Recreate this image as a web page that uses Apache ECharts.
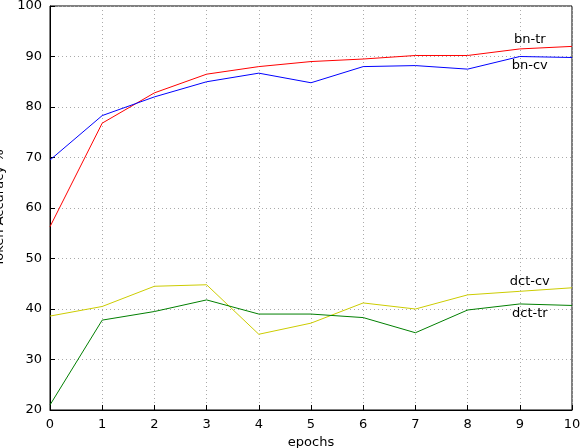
<!DOCTYPE html>
<html lang="en">
  <head>
    <meta charset="UTF-8" />
    <script src="https://cdn.jsdelivr.net/npm/echarts@6/dist/echarts.min.js"></script>
    <style>
      body { margin: 0; background: #fff; }
      .echarts { width: 580px; height: 448px; }
    </style>
  </head>
  <body>
    <div class="echarts"></div>
    <script>
      const epochs = [0, 1, 2, 3, 4, 5, 6, 7, 8, 9, 10]
      const bnTr = [56.3, 76.8, 82.8, 86.5, 88, 89, 89.5, 90.2, 90.2, 91.5, 92]
      const bnCv = [69.5, 78.3, 82, 85, 86.7, 84.8, 88, 88.2, 87.5, 90, 89.8]
      const dctCv = [38.6, 40.5, 44.5, 44.8, 35, 37.2, 41.2, 40, 42.8, 43.5, 44.2]
      const dctTr = [21, 37.8, 39.5, 41.8, 39, 39, 38.3, 35.3, 39.8, 41, 40.7]

      const myCharts = echarts.init(document.querySelector('.echarts'))
      const txt = { fontFamily: 'DejaVu Sans', fontSize: 13, color: '#000' }

      // label sits on the 9th point, above or below the line
      function line(name, values, color, pos) {
        return {
          name, type: 'line', color, symbol: 'circle', symbolSize: 0, showSymbol: true, animation: false,
          lineStyle: { width: 1 },
          data: values.map((v, i) => i === 9
            ? { value: [epochs[i], v], label: { show: true, formatter: name, position: pos, distance: 3, offset: [10, 0], ...txt } }
            : [epochs[i], v])
        }
      }

      const axisCommon = {
        axisLine: { show: true, onZero: false, lineStyle: { color: '#000' } },
        axisTick: { inside: true, lineStyle: { color: '#000' } },
        splitLine: { show: true, lineStyle: { color: '#aaa', type: [1, 3] } },
        axisLabel: { ...txt },
        nameTextStyle: { ...txt }
      }

      myCharts.setOption({
        grid: { left: 50, right: 8, top: 6, bottom: 38, outerBoundsMode: 'none', containLabel: false, show: true, borderColor: '#000', borderWidth: 1 },
        xAxis: { type: 'value', min: 0, max: 10, interval: 1, name: 'epochs', nameLocation: 'middle', nameGap: 22, ...axisCommon },
        yAxis: { type: 'value', min: 20, max: 100, interval: 10, name: 'Token Accuracy %', nameLocation: 'middle', nameGap: 36, ...axisCommon },
        series: [
          line('bn-tr', bnTr, '#ff0000', 'top'),
          line('bn-cv', bnCv, '#0000ff', 'bottom'),
          line('dct-cv', dctCv, '#cccc00', 'top'),
          line('dct-tr', dctTr, '#007f00', 'bottom')
        ]
      })
    </script>
  </body>
</html>
